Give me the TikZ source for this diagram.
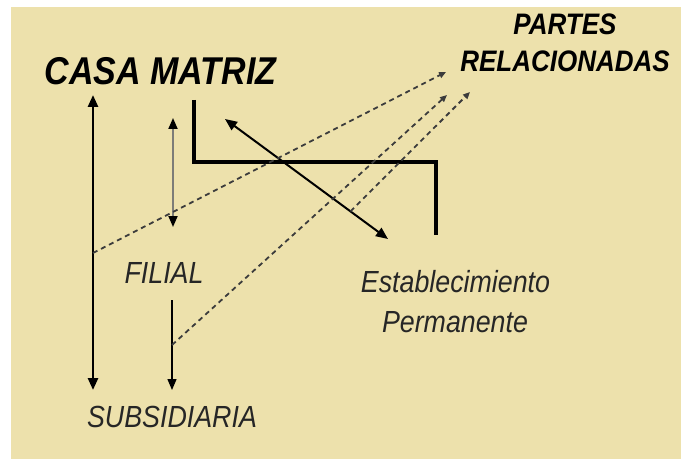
\documentclass[tikz,border=0pt]{standalone}
\usepackage{fontspec}
\setmainfont{Liberation Sans}
\usepackage{graphicx}
\usetikzlibrary{arrows.meta, calc}
\definecolor{sand}{RGB}{237,225,172}
\definecolor{dashgrey}{RGB}{60,60,60}
\definecolor{stemgrey}{RGB}{125,125,120}
\newcommand{\tall}[1]{\scalebox{1}[1.14]{#1}}
\tikzstyle{bigtitle} = [font=\fontsize{34}{40}\selectfont\bfseries\itshape, inner sep=0pt, anchor=base]
\tikzstyle{parttitle} = [font=\fontsize{26}{30}\selectfont\bfseries\itshape, inner sep=0pt, anchor=base]
\tikzstyle{thinlabel} = [font=\fontsize{26.8}{30}\selectfont\itshape, text=black!85, inner sep=0pt, anchor=base]
\tikzstyle{bigarr} = [draw, {Triangle[length=12pt,width=10pt]}-{Triangle[length=12pt,width=10pt]}, line width=2.6pt]
\tikzstyle{relarr} = [draw, dashgrey, dash pattern=on 5pt off 4pt, line width=1.8pt, -{Triangle[length=7pt,width=6pt]}]

\begin{document}
\begin{tikzpicture}[x=1pt, y=1pt]

    \tikzstyle{wall} = [line width=4.6pt, line join=miter];

    \useasboundingbox (0,0) rectangle (681,459);
    \fill [sand] (11,0) rectangle (681,452);

    \node [bigtitle] at (160.5,374) (casa) {\tall{CASA MATRIZ}};
    \node [parttitle] at (565,424) (partes) {\tall{PARTES}};
    \node [parttitle] at (565,387) (relac) {\tall{RELACIONADAS}};
    \node [thinlabel] at (164,176) (filial) {\tall{FILIAL}};
    \node [thinlabel] at (172,32) (subsid) {\tall{SUBSIDIARIA}};
    \node [thinlabel] at (455.5,167) (estab) {\tall{Establecimiento}};
    \node [thinlabel] at (455,127) (perm) {\tall{Permanente}};

    % arrow ends
    \coordinate (mtop) at (93,364);
    \coordinate (mbot) at (93,69);
    \coordinate (ftop) at (173,341);
    \coordinate (fbot) at (173,232);
    \coordinate (stop) at (172,159);
    \coordinate (sbot) at (172,69);
    \coordinate (etop) at (225,340);
    \coordinate (ebot) at (388,220);
    \coordinate (wa) at (194,359);
    \coordinate (wb) at (194,297);
    \coordinate (wc) at (436,297);
    \coordinate (wd) at (436,224);
    \coordinate (ra) at (446,387);
    \coordinate (rb) at (447,364);
    \coordinate (rc) at (470,367);

    \draw [wall] (wa) -- (wb) -- (wc) -- (wd);

    \draw [bigarr] (mtop) -- (mbot);
    \draw [stemgrey, line width=2pt, {Triangle[length=11pt,width=9pt,color=black]}-{Triangle[length=11pt,width=9pt,color=black]}] (ftop) -- (fbot);
    \draw [line width=1.3pt, -{Triangle[length=11pt,width=9pt]}] (stop) -- (sbot);
    \draw [line width=2pt, {Triangle[length=12pt,width=10pt]}-{Triangle[length=12pt,width=10pt]}] (etop) -- (ebot);

    \draw [relarr] (93,206) -- (ra);
    \draw [relarr] (172,114) -- (rb);
    \draw [relarr] ($(etop)!0.77!(ebot)$) -- (rc);

\end{tikzpicture}
\end{document}
